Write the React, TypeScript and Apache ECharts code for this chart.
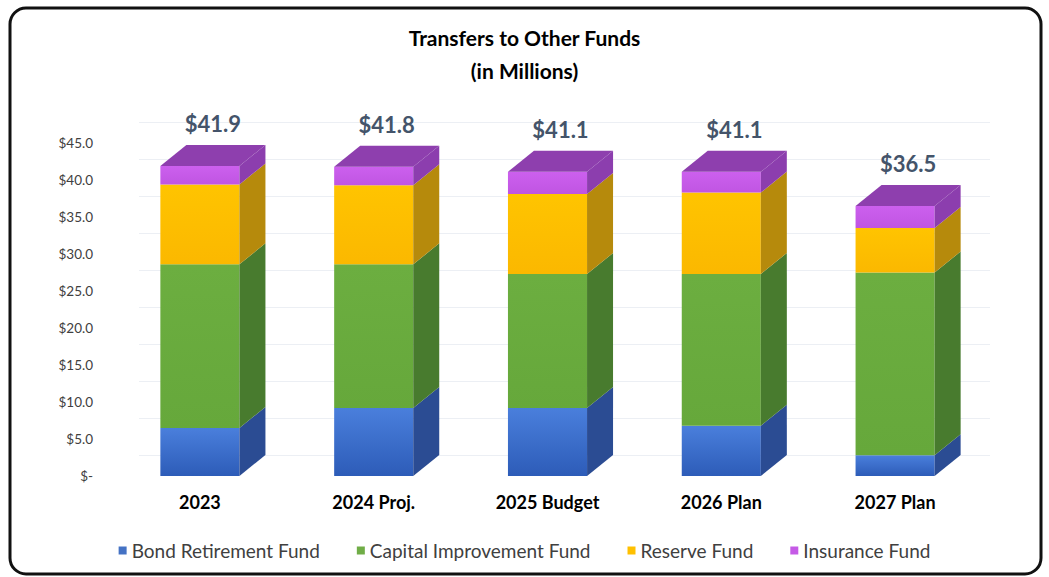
import React, { useEffect, useRef } from "react";
import * as echarts from "echarts";

const categories = ["2023", "2024 Proj.", "2025 Budget", "2026 Plan", "2027 Plan"];
const bondRetirement = [6.5, 9.2, 9.2, 6.8, 2.8];
const capitalImprovement = [22.1, 19.4, 18.1, 20.5, 24.7];
const reserve = [10.8, 10.7, 10.8, 11.0, 6.0];
const insurance = [2.5, 2.5, 3.0, 2.8, 3.0];
const seriesNames = ["Bond Retirement Fund", "Capital Improvement Fund", "Reserve Fund", "Insurance Fund"];
const yMin = 0;
const yMax = 45;
const yInterval = 5;

const FONT = "Lato, 'Open Sans', sans-serif";
const DX = 26;
const DY = 21;

const palette = [
  { legend: "#4472c4", top: "#4a7fdc", bottom: "#2d5cb8", side: "#2b4c93", cap: "#3a62ad" },
  { legend: "#70ad47", top: "#6cae40", bottom: "#66a83b", side: "#487b2e", cap: "#5a8f36" },
  { legend: "#ffc000", top: "#ffc400", bottom: "#fbb800", side: "#b68a0c", cap: "#d6a200" },
  { legend: "#c55ae6", top: "#cc60ee", bottom: "#c055e2", side: "#8c3eae", cap: "#8e3fae" },
];

export default function App() {
  const ref = useRef<HTMLDivElement>(null);
  useEffect(() => {
    if (!ref.current) return;
    const chart = echarts.init(ref.current, null, { renderer: "svg" });
    const values = [bondRetirement, capitalImprovement, reserve, insurance];
    const totals = categories.map((_, j) => values.reduce((s, arr) => s + arr[j], 0));

    const series: any[] = values.map((arr, i) => {
      const data = arr.map((v, j) => {
        let base = 0;
        for (let k = 0; k < i; k++) base += values[k][j];
        return [j, base, base + v, totals[j]];
      });
      const col = palette[i];
      const isTop = i === values.length - 1;
      return {
        type: "custom",
        name: seriesNames[i],
        xAxisIndex: 0,
        yAxisIndex: 0,
        color: col.legend,
        encode: { x: 0, y: [1, 2] },
        data,
        renderItem: (params: any, api: any) => {
          const idx = api.value(0);
          const p0 = api.coord([idx, api.value(1)]);
          const p1 = api.coord([idx, api.value(2)]);
          const bw = api.size([1, 0])[0] * 0.455;
          const xl = p0[0] - bw / 2;
          const xr = p0[0] + bw / 2;
          const y0 = p0[1];
          const y1 = p1[1];
          const children: any[] = [
            {
              type: "rect",
              shape: { x: xl, y: y1, width: bw, height: y0 - y1 },
              style: {
                fill: new echarts.graphic.LinearGradient(0, 0, 0, 1, [
                  { offset: 0, color: col.top },
                  { offset: 1, color: col.bottom },
                ]),
              },
            },
            {
              type: "polygon",
              shape: { points: [[xr, y1], [xr + DX, y1 - DY], [xr + DX, y0 - DY], [xr, y0]] },
              style: { fill: col.side },
            },
          ];
          if (isTop) {
            children.push({
              type: "polygon",
              shape: { points: [[xl, y1], [xl + DX, y1 - DY], [xr + DX, y1 - DY], [xr, y1]] },
              style: { fill: col.cap },
            });
            children.push({
              type: "text",
              style: {
                text: "$" + api.value(3).toFixed(1),
                x: p0[0] + DX / 2,
                y: y1 - DY - 21,
                align: "center",
                verticalAlign: "middle",
                font: `bold 22px ${FONT}`,
                fill: "#44546a",
              },
            });
          }
          return { type: "group", children };
        },
      };
    });

    chart.setOption({
      animation: false,
      backgroundColor: "#ffffff",
      title: {
        text: "Transfers to Other Funds\n(in Millions)",
        left: "center",
        top: 16,
        textStyle: { fontFamily: FONT, fontWeight: "bold", fontSize: 21, color: "#000", lineHeight: 33 },
      },
      legend: {
        bottom: 12,
        left: "center",
        itemWidth: 8,
        itemHeight: 8,
        itemGap: 37,
        icon: "rect",
        data: seriesNames,
        textStyle: { fontFamily: FONT, fontSize: 19, color: "#404040" },
      },
      grid: [
        { left: 113, right: 67, top: 143, bottom: 101 },
        { left: 113 + DX, right: 59, top: 143 - DY, bottom: 101 + DY },
      ],
      xAxis: [
        {
          type: "category",
          gridIndex: 0,
          data: categories,
          axisLine: { show: false },
          axisTick: { show: false },
          axisLabel: { margin: 17, fontFamily: FONT, fontWeight: "bold", fontSize: 18, color: "#000" },
        },
        {
          type: "category",
          gridIndex: 1,
          data: categories,
          show: false,
        },
      ],
      yAxis: [
        {
          type: "value",
          gridIndex: 0,
          min: yMin,
          max: yMax,
          interval: yInterval,
          splitLine: { show: false },
          axisLine: { show: false },
          axisTick: { show: false },
          axisLabel: {
            margin: 20,
            fontFamily: FONT,
            fontSize: 13.5,
            color: "#404040",
            formatter: (v: number) => (v === 0 ? "$-" : "$" + v.toFixed(1)),
          },
        },
        {
          type: "value",
          gridIndex: 1,
          min: yMin,
          max: yMax,
          interval: yInterval,
          axisLine: { show: false },
          axisTick: { show: false },
          axisLabel: { show: false },
          splitLine: { show: true, lineStyle: { color: "#eceff4", width: 1 } },
        },
      ],
      graphic: [
        {
          type: "rect",
          shape: { x: 10, y: 8, width: 1031, height: 566, r: 16 },
          style: { fill: "none", stroke: "#111111", lineWidth: 3 },
          silent: true,
          z: 100,
        },
      ],
      series,
    });
    return () => chart.dispose();
  }, []);
  return (
    <div
      ref={ref}
      style={{ position: "fixed", left: 0, top: 0, width: 1049, height: 577, background: "#fff" }}
    />
  );
}
